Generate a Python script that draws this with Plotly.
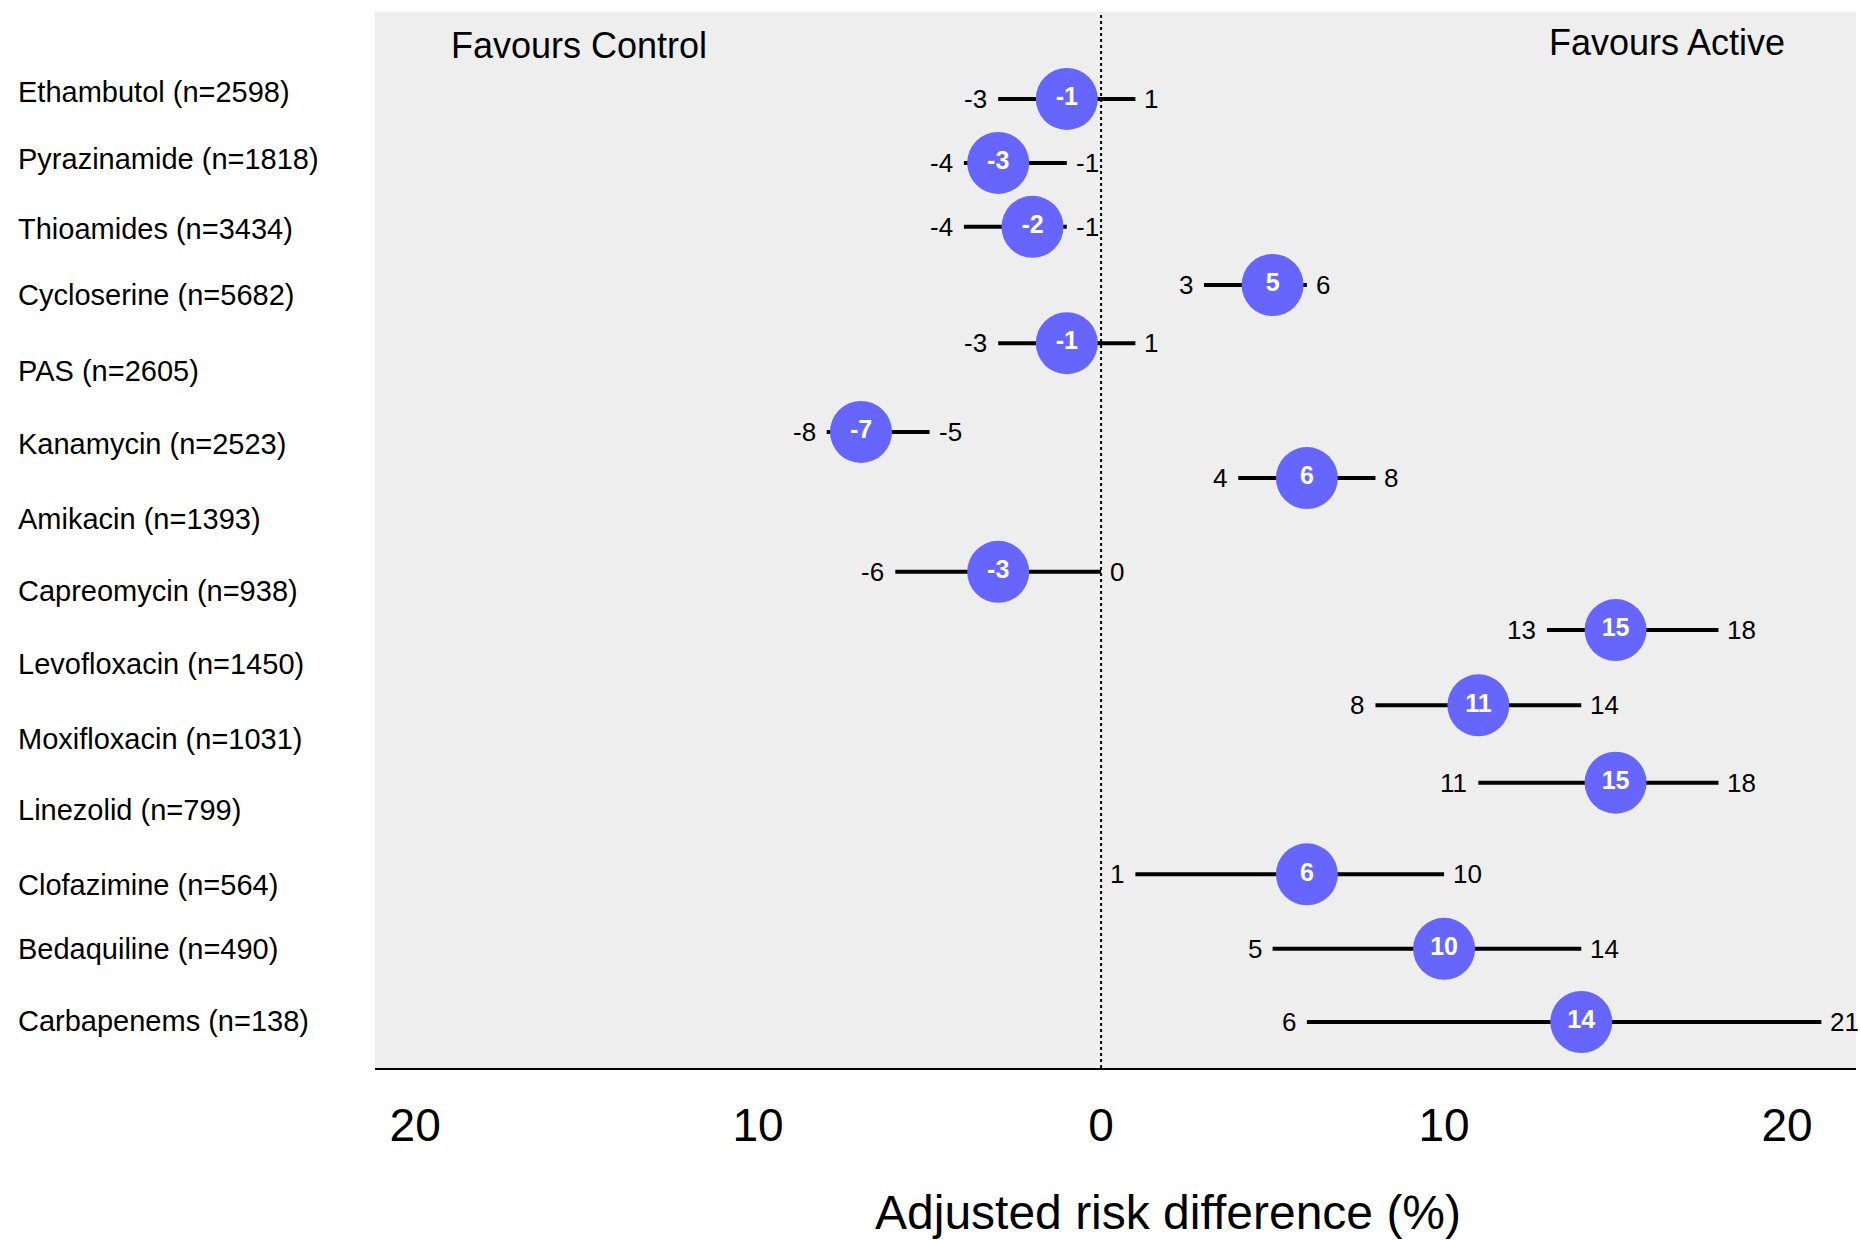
import plotly.graph_objects as go

# Adjusted risk difference (%) per drug, with 95% CI bounds
drugs = [
    "Ethambutol (n=2598)", "Pyrazinamide (n=1818)", "Thioamides (n=3434)",
    "Cycloserine (n=5682)", "PAS (n=2605)", "Kanamycin (n=2523)",
    "Amikacin (n=1393)", "Capreomycin (n=938)", "Levofloxacin (n=1450)",
    "Moxifloxacin (n=1031)", "Linezolid (n=799)", "Clofazimine (n=564)",
    "Bedaquiline (n=490)", "Carbapenems (n=138)",
]
estimate = [-1, -3, -2, 5, -1, -7, 6, -3, 15, 11, 15, 6, 10, 14]
lower = [-3, -4, -4, 3, -3, -8, 4, -6, 13, 8, 11, 1, 5, 6]
upper = [1, -1, -1, 6, 1, -5, 8, 0, 18, 14, 18, 10, 14, 21]

tick_vals = [-20, -10, 0, 10, 20]
tick_text = ["20", "10", "0", "10", "20"]

# Vertical placement (in row units) of each estimate and of each drug label
marker_row = [0.0, 0.9, 1.8, 2.62, 3.44, 4.69, 5.34, 6.66, 7.48, 8.54, 9.63, 10.92, 11.97, 13.0]
label_row = [-0.1, 0.84, 1.83, 2.76, 3.83, 4.86, 5.92, 6.93, 7.96, 9.01, 10.01, 11.07, 11.97, 12.99]

FONT = "Liberation Sans, Arial, Helvetica, sans-serif"
BLUE = "#6666FF"

fig = go.Figure()

fig.add_trace(go.Scatter(
    x=estimate,
    y=marker_row,
    mode="markers+text",
    text=[str(v) for v in estimate],
    textposition="middle center",
    textfont=dict(family=FONT, size=25, color="white", weight="bold"),
    marker=dict(size=62, color=BLUE, line=dict(width=0)),
    error_x=dict(
        type="data",
        symmetric=False,
        array=[u - e for u, e in zip(upper, estimate)],
        arrayminus=[e - l for e, l in zip(estimate, lower)],
        thickness=4,
        width=0,
        color="black",
    ),
    hoverinfo="skip",
    showlegend=False,
    cliponaxis=False,
))

annotations = []
for name, row in zip(drugs, label_row):
    annotations.append(dict(
        text=name, x=-0.2424, xref="paper", y=row, yref="y",
        xanchor="left", yanchor="middle", showarrow=False,
        font=dict(family=FONT, size=29, color="black"),
    ))

for lo, hi, row in zip(lower, upper, marker_row):
    annotations.append(dict(
        text=str(lo), x=lo, xref="x", y=row, yref="y",
        xanchor="right", yanchor="middle", xshift=-9, showarrow=False,
        font=dict(family=FONT, size=26, color="black"),
    ))
    annotations.append(dict(
        text=str(hi), x=hi, xref="x", y=row, yref="y",
        xanchor="left", yanchor="middle", xshift=7, showarrow=False,
        font=dict(family=FONT, size=26, color="black"),
    ))

annotations += [
    dict(text="Favours Control", x=-19, xref="x", y=-0.76, yref="y",
         xanchor="left", yanchor="middle", showarrow=False,
         font=dict(family=FONT, size=36, color="black")),
    dict(text="Favours Active", x=20, xref="x", y=-0.8, yref="y",
         xanchor="right", yanchor="middle", showarrow=False,
         font=dict(family=FONT, size=36, color="black")),
    dict(text="Adjusted risk difference (%)", x=0.5355, xref="paper",
         y=-0.1364, yref="paper", xanchor="center", yanchor="middle",
         showarrow=False, font=dict(family=FONT, size=48, color="black")),
]

# Dotted reference line at no difference
fig.add_vline(x=0, line=dict(color="black", width=2, dash="dot"), layer="below")

fig.update_layout(
    width=1860,
    height=1240,
    margin=dict(l=375, r=4, t=12, b=172),
    paper_bgcolor="white",
    plot_bgcolor="#EEEEEE",
    font=dict(family=FONT, color="black"),
    annotations=annotations,
    xaxis=dict(
        range=[-21.17, 22.01],
        tickvals=tick_vals,
        ticktext=tick_text,
        tickfont=dict(family=FONT, size=46, color="black"),
        ticks="",
        ticklabelstandoff=16,
        showgrid=False,
        zeroline=False,
        showline=True,
        linecolor="black",
        linewidth=2,
        fixedrange=True,
    ),
    yaxis=dict(
        range=[13.648, -1.225],
        showticklabels=False,
        showgrid=False,
        zeroline=False,
        ticks="",
        fixedrange=True,
    ),
)

fig.write_html("out.html")
